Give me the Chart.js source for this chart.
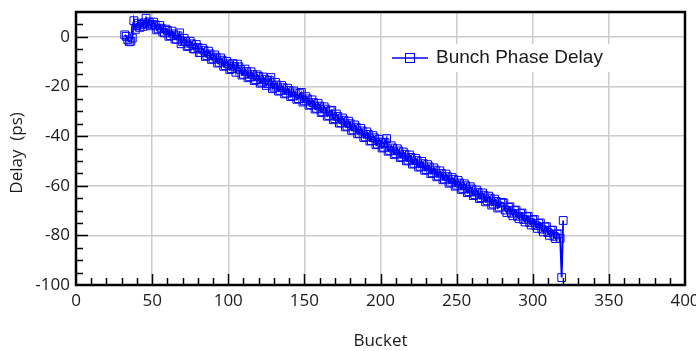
<!DOCTYPE html>
<html>
<head>
<meta charset="utf-8">
<script src="https://cdn.jsdelivr.net/npm/chart.js@4.4.0/dist/chart.umd.min.js"></script>
<style>
  html, body { margin: 0; padding: 0; background: #fff; }
  #wrap { width: 696px; height: 351px; position: relative; }
</style>
</head>
<body>
<div id="wrap"><canvas id="chart"></canvas></div>
<script>
// Bucket numbers (x) and measured delay in ps (y)
const buckets = [
  32, 33, 34, 35, 36, 37, 38, 39, 40, 41, 42, 43, 44, 45, 46, 47, 48, 49, 50,
  51, 52, 53, 54, 55, 56, 57, 58, 59, 60,
  61, 62, 63, 64, 65, 66, 67, 68, 69, 70,
  71, 72, 73, 74, 75, 76, 77, 78, 79, 80,
  81, 82, 83, 84, 85, 86, 87, 88, 89, 90,
  91, 92, 93, 94, 95, 96, 97, 98, 99, 100,
  101, 102, 103, 104, 105, 106, 107, 108, 109, 110,
  111, 112, 113, 114, 115, 116, 117, 118, 119, 120,
  121, 122, 123, 124, 125, 126, 127, 128, 129, 130,
  131, 132, 133, 134, 135, 136, 137, 138, 139, 140,
  141, 142, 143, 144, 145, 146, 147, 148, 149, 150,
  151, 152, 153, 154, 155, 156, 157, 158, 159, 160,
  161, 162, 163, 164, 165, 166, 167, 168, 169, 170,
  171, 172, 173, 174, 175, 176, 177, 178, 179, 180,
  181, 182, 183, 184, 185, 186, 187, 188, 189, 190,
  191, 192, 193, 194, 195, 196, 197, 198, 199, 200,
  201, 202, 203, 204, 205, 206, 207, 208, 209, 210,
  211, 212, 213, 214, 215, 216, 217, 218, 219, 220,
  221, 222, 223, 224, 225, 226, 227, 228, 229, 230,
  231, 232, 233, 234, 235, 236, 237, 238, 239, 240,
  241, 242, 243, 244, 245, 246, 247, 248, 249, 250,
  251, 252, 253, 254, 255, 256, 257, 258, 259, 260,
  261, 262, 263, 264, 265, 266, 267, 268, 269, 270,
  271, 272, 273, 274, 275, 276, 277, 278, 279, 280,
  281, 282, 283, 284, 285, 286, 287, 288, 289, 290,
  291, 292, 293, 294, 295, 296, 297, 298, 299, 300,
  301, 302, 303, 304, 305, 306, 307, 308, 309, 310,
  311, 312, 313, 314, 315, 316, 317, 318, 319, 320
];
const delays = [
  0.8, 0.2, -1.2, -2.0, -1.8, -0.5, 6.5, 3.0, 4.5, 5.5, 3.8, 5.0, 4.2, 5.6, 7.5, 5.2, 6.0, 4.4, 5.0,
  5.9, 4.8, 2.8, 3.2, 4.6, 3.5, 1.9, 1.6, 3.1, 2.6,
  0.2, 0.5, 2.3, 1.2, -0.9, -1.0, 0.4, 1.6, -2.8, -1.9,
  -0.6, -1.7, -3.9, -3.6, -1.8, -2.8, -4.8, -4.9, -3.1, -4.3,
  -6.4, -6.3, -4.6, -5.4, -7.9, -7.6, -5.8, -6.9, -9.1, -8.9,
  -7.3, -8.2, -10.6, -10.3, -8.5, -9.4, -11.9, -11.6, -9.9, -10.9,
  -13.2, -12.8, -10.8, -11.9, -14.3, -11.0, -12.1, -13.1, -15.4, -15.1,
  -13.0, -14.0, -16.5, -16.1, -14.1, -15.2, -17.6, -17.3, -15.3, -16.0,
  -18.7, -18.3, -16.2, -17.1, -19.6, -18.9, -17.5, -16.4, -20.9, -20.3,
  -18.4, -19.4, -21.9, -21.6, -19.6, -20.5, -23.0, -22.7, -20.7, -21.6,
  -24.1, -23.8, -21.8, -22.6, -25.2, -24.9, -22.9, -22.4, -26.3, -25.8,
  -24.1, -25.0, -27.6, -27.3, -25.4, -26.5, -29.1, -28.8, -26.8, -27.9,
  -30.5, -30.2, -28.2, -29.1, -32.0, -31.7, -29.8, -29.6, -33.4, -33.0,
  -31.1, -32.1, -34.8, -34.6, -32.7, -33.6, -36.3, -36.0, -34.0, -35.0,
  -37.7, -37.5, -35.5, -36.4, -39.1, -38.9, -36.9, -37.9, -40.6, -40.3,
  -38.3, -39.3, -42.0, -41.8, -39.8, -40.7, -43.5, -43.2, -41.3, -42.4,
  -44.8, -44.5, -42.6, -41.0, -46.1, -45.8, -43.9, -44.8, -47.4, -47.1,
  -45.1, -46.0, -48.7, -48.4, -46.4, -47.3, -50.0, -49.7, -47.6, -48.6,
  -51.3, -51.0, -49.0, -49.9, -52.5, -52.2, -50.2, -51.1, -53.8, -53.5,
  -51.5, -52.4, -55.1, -54.8, -52.8, -53.7, -56.4, -56.1, -54.0, -55.0,
  -57.6, -57.3, -55.3, -56.3, -59.0, -58.6, -56.7, -57.5, -60.2, -59.8,
  -57.9, -58.9, -61.5, -61.1, -59.2, -60.0, -62.8, -62.4, -60.4, -61.3,
  -64.0, -63.6, -61.7, -62.6, -65.2, -64.8, -62.9, -63.8, -66.5, -66.1,
  -64.2, -65.0, -67.8, -67.4, -65.4, -66.3, -69.0, -68.6, -66.7, -66.8,
  -67.0, -69.8, -70.8, -68.7, -68.5, -71.1, -72.1, -70.0, -69.8, -72.3,
  -73.3, -71.2, -71.0, -73.6, -74.6, -72.5, -72.3, -74.8, -75.8, -73.8,
  -73.6, -76.1, -77.2, -75.2, -75.0, -77.5, -78.6, -76.6, -76.5, -78.9,
  -80.0, -78.0, -77.9, -80.4, -81.3, -79.5, -79.4, -81.2, -97.0, -74.0
];
const seriesName = "Bunch Phase Delay";

const xRange = [0, 400];
const yRange = [-100, 10];

const blue = "#0000ff";
const tickFont = { family: "'Open Sans', sans-serif", size: 17 };
const titleFont = { family: "'Open Sans', sans-serif", size: 17 };

// inward tick marks, frame and the legend box
const framePlugin = {
  id: "frame",
  afterDraw(chart) {
    const { ctx, chartArea: a, scales } = chart;
    const xs = scales.x, ys = scales.y;
    ctx.save();
    ctx.strokeStyle = "#000";
    ctx.lineWidth = 1.5;
    ctx.beginPath();
    for (let v = xRange[0] + 10; v < xRange[1]; v += 10) {
      const px = Math.round(xs.getPixelForValue(v)) + 0.5;
      const len = v % 50 === 0 ? 11 : 7;
      ctx.moveTo(px, a.bottom);
      ctx.lineTo(px, a.bottom - len);
    }
    for (let v = yRange[0] + 5; v < yRange[1]; v += 5) {
      const py = Math.round(ys.getPixelForValue(v)) + 0.5;
      const len = v % 20 === 0 ? 12 : 7;
      ctx.moveTo(a.left, py);
      ctx.lineTo(a.left + len, py);
    }
    ctx.stroke();

    ctx.lineWidth = 2.5;
    ctx.strokeRect(a.left, a.top, a.right - a.left, a.bottom - a.top);

    // legend
    const lx = a.left + 316, ly = a.top + 46;
    ctx.fillStyle = "#fff";
    ctx.fillRect(lx - 4, ly - 14, 226, 28);
    ctx.strokeStyle = blue;
    ctx.lineWidth = 1.5;
    ctx.beginPath();
    ctx.moveTo(lx, ly);
    ctx.lineTo(lx + 36, ly);
    ctx.stroke();
    ctx.lineWidth = 1;
    ctx.strokeRect(lx + 13.5, ly - 4.5, 9, 9);
    ctx.fillStyle = "#1a1a1a";
    ctx.font = "19px 'Liberation Sans', Arial, sans-serif";
    ctx.textBaseline = "middle";
    ctx.fillText(seriesName, lx + 44, ly);
    ctx.restore();
  }
};

const points = buckets.map((b, i) => ({ x: b, y: delays[i] }));

new Chart(document.getElementById("chart"), {
  type: "line",
  data: {
    datasets: [{
      label: seriesName,
      data: points,
      borderColor: blue,
      borderWidth: 1.8,
      pointStyle: "rect",
      pointRadius: 5.5,
      pointBorderWidth: 1,
      pointBorderColor: blue,
      pointBackgroundColor: "rgba(255,255,255,0)",
      tension: 0
    }]
  },
  options: {
    responsive: true,
    maintainAspectRatio: false,
    animation: false,
    layout: { padding: { top: 12, right: 11, left: 0, bottom: 0 } },
    plugins: { legend: { display: false }, tooltip: { enabled: false } },
    scales: {
      x: {
        type: "linear",
        min: xRange[0],
        max: xRange[1],
        grid: { color: "#cccccc", lineWidth: 1.5, drawTicks: false },
        border: { display: false },
        ticks: { stepSize: 50, font: tickFont, color: "#1a1a1a", padding: 6, maxRotation: 0, includeBounds: false },
        title: { display: true, text: "Bucket", font: titleFont, color: "#1a1a1a", padding: 0 },
        afterFit(s) { s.height = 66; s.paddingLeft = 0; s.paddingRight = 0; }
      },
      y: {
        min: yRange[0],
        max: yRange[1],
        grid: { color: "#cccccc", lineWidth: 1.5, drawTicks: false },
        border: { display: false },
        ticks: { stepSize: 20, font: tickFont, color: "#1a1a1a", padding: 6, includeBounds: false },
        title: { display: true, text: "Delay  (ps)  ", font: titleFont, color: "#1a1a1a", padding: 7 },
        afterFit(s) { s.width = 76; s.paddingTop = 0; s.paddingBottom = 0; }
      }
    }
  },
  plugins: [framePlugin]
});
</script>
</body>
</html>
